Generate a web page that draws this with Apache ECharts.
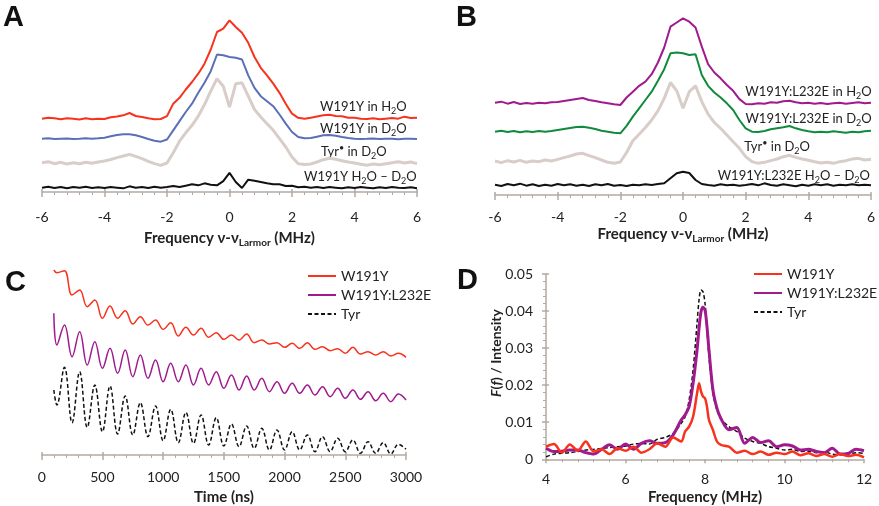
<!DOCTYPE html>
<html><head><meta charset="utf-8">
<script src="https://cdn.jsdelivr.net/npm/echarts@6/dist/echarts.min.js"></script>
<style>html,body{margin:0;padding:0;background:#fff}#c{width:879px;height:506px}</style>
</head><body><div id="c"></div>
<script>
// ---------- DATA ----------
const freqA = [-6,-5.8,-5.6,-5.4,-5.2,-5,-4.8,-4.6,-4.4,-4.2,-4,-3.8,-3.6,-3.4,-3.2,-3,-2.8,-2.6,-2.4,-2.2,-2,-1.8,-1.6,-1.4,-1.2,-1,-0.8,-0.6,-0.4,-0.2,0,0.2,0.4,0.6,0.8,1,1.2,1.4,1.6,1.8,2,2.2,2.4,2.6,2.8,3,3.2,3.4,3.6,3.8,4,4.2,4.4,4.6,4.8,5,5.2,5.4,5.6,5.8,6];
const redA = [44.0,44.6,44.2,43.6,44.3,44.0,43.5,44.2,43.6,44.0,43.8,44.8,45.3,46.0,47.4,45.6,45.0,44.2,43.6,43.8,45.5,53.0,56.5,61.5,66.0,71.0,77.0,85.5,96.0,98.0,103.0,99.0,95.5,89.5,81.0,74.5,70.0,65.0,59.5,53.0,47.0,44.5,44.0,44.5,45.3,46.0,46.4,45.6,45.4,44.6,44.5,44.0,43.8,44.2,43.6,44.0,44.4,44.0,45.2,44.4,44.6];
const blueA = [32.0,32.2,31.8,32.0,32.1,31.8,32.0,32.3,32.0,32.2,32.6,33.4,34.2,34.6,34.6,34.0,33.0,31.8,30.8,30.2,31.5,37.0,42.5,48.0,53.0,59.5,65.5,72.5,82.5,82.0,81.0,80.5,79.5,70.0,62.5,57.5,54.5,51.5,46.5,41.0,36.0,33.0,32.2,32.4,33.2,34.0,34.2,33.8,33.0,32.4,32.0,31.8,31.9,32.1,31.8,32.0,32.0,31.7,32.0,31.9,31.8];
const grayA = [17.5,18.2,17.0,17.8,16.8,17.6,17.0,17.8,17.2,18.0,18.6,19.5,20.6,21.6,22.6,21.4,20.0,18.4,17.0,16.0,17.4,23.5,30.5,35.5,40.0,45.5,52.5,60.5,68.0,63.5,51.0,65.0,65.5,57.5,49.5,45.0,41.0,37.0,32.0,27.0,21.0,17.0,16.5,16.8,18.0,19.4,20.2,19.6,18.8,18.0,17.4,16.6,16.0,16.8,16.4,17.0,17.6,18.2,17.4,18.0,17.0];
const blackA = [2.6,3.2,2.4,3.0,2.2,3.0,2.6,3.2,2.4,2.8,2.4,3.0,2.6,2.2,3.4,2.6,3.0,2.4,3.2,2.6,3.0,3.6,3.0,3.8,4.6,4.0,5.2,4.4,4.0,6.5,11.5,6.0,2.4,7.4,6.8,6.0,5.2,4.6,4.6,3.6,3.8,2.8,3.2,2.6,3.0,2.4,3.0,2.6,2.2,2.8,2.4,3.0,2.6,2.2,2.8,2.4,3.0,2.6,2.4,2.8,2.2];

const magB = [55.4,56.0,54.8,55.8,54.6,55.2,54.8,55.4,55.0,55.6,55.8,56.4,57.0,57.6,58.2,57.0,56.4,55.6,55.0,54.4,54.0,58.5,62.0,65.5,68.0,72.5,79.5,88.5,101.0,103.5,106.0,104.0,100.5,89.0,78.5,73.5,70.0,66.0,62.5,57.5,54.6,54.4,55.0,54.8,55.6,55.4,56.2,56.6,55.6,55.0,55.4,54.8,55.2,54.6,55.0,55.4,54.8,55.2,55.6,55.0,55.4];
const greenB = [38.0,38.6,37.8,38.4,37.6,38.2,37.8,38.4,38.0,38.4,39.0,39.6,40.2,40.8,41.0,40.4,39.6,38.6,38.0,37.4,37.0,41.5,47.0,52.0,57.0,62.0,68.5,75.5,85.0,85.5,85.0,84.0,84.5,72.0,65.5,61.5,58.5,55.0,51.0,45.0,40.0,38.0,37.8,38.4,39.4,40.0,40.6,41.4,40.0,39.0,38.2,37.6,38.0,37.6,38.2,37.8,37.4,38.0,37.6,38.2,38.6];
const grayB = [20.4,19.4,20.6,19.8,20.8,19.6,20.4,20.0,21.0,20.4,21.4,22.4,23.4,24.6,25.0,23.6,22.4,21.0,19.6,19.0,19.8,25.5,32.5,36.5,40.5,45.0,50.5,58.0,67.5,62.5,52.0,62.0,65.5,56.0,48.5,43.5,40.0,36.0,32.0,28.0,23.0,20.0,19.0,19.6,20.6,21.6,23.0,23.8,22.6,21.6,20.8,20.0,19.2,19.6,19.0,20.0,20.6,21.6,22.0,21.0,21.4];
const blackB = [6.2,5.4,6.6,5.8,6.8,5.6,6.4,5.4,6.2,5.6,6.6,5.8,6.4,5.6,6.2,5.4,6.4,5.8,6.6,5.6,6.0,5.4,6.2,5.8,6.4,6.0,6.6,7.0,10.0,13.0,14.0,13.2,9.0,6.6,6.0,5.6,6.4,5.8,6.2,5.6,6.0,6.6,5.8,7.0,6.0,5.6,6.4,5.8,5.2,6.2,5.6,6.4,5.8,6.4,5.6,6.2,5.8,6.4,5.8,6.2,5.8];

const labelsA = ['W191Y in H2O','W191Y in D2O','Tyr• in D2O','W191Y H2O – D2O'];
const labelsB = ['W191Y:L232E in H2O','W191Y:L232E in D2O','Tyr• in D2O','W191Y:L232E H2O – D2O'];

const timeC = [100,125,187.5,250,312.5,375,437.5,500,562.5,625,687.5,750,812.5,875,937.5,1000,1062.5,1125,1187.5,1250,1312.5,1375,1437.5,1500,1562.5,1625,1687.5,1750,1812.5,1875,1937.5,2000,2062.5,2125,2187.5,2250,2312.5,2375,2437.5,2500,2562.5,2625,2687.5,2750,2812.5,2875,2937.5,3000];
const redC = [111,109.4,110.6,96,99,89,93,82,89.4,82,86.6,78.6,83,78,81,75.4,79.4,71.4,76.6,72,76,70.6,73.4,69.4,72,69,72.6,67.4,69,66.6,67.4,64.6,67,64,67.4,63.4,65,62.6,63.8,61,64.6,60.6,62,60,62,59.4,61,58.6];
const magC = [85,66,78,59,74,54,68,52,64,49,63,47,60,46,57,44,55,44,54,42,52,42,50,40,48,39,47.4,39,46,38,44,37,43,37,42,36,41,35,40,34,39,33.4,38,32.6,37,32,36.6,33];
const tyrC = [39,30,52.6,19.4,50,16.6,42,14,41.4,12.6,35.4,12,31.4,11,29.4,8.6,27.4,7.4,25.6,7,24,6,22.4,5.4,18.6,5,17.4,4,16,3,15,3,14,3,12,2,11,2,10,2,9,1,8,1,7.4,0.6,6.4,3.4];

const freqD = [4,4.2,4.4,4.6,4.8,5,5.2,5.4,5.6,5.8,6,6.2,6.4,6.6,6.8,7,7.2,7.4,7.5,7.6,7.7,7.8,7.85,7.9,7.95,8,8.05,8.1,8.2,8.3,8.4,8.6,8.8,9,9.2,9.4,9.6,9.8,10,10.2,10.4,10.6,10.8,11,11.2,11.4,11.6,11.8,12];
const redD = [0.0034,0.0041,0.0018,0.0040,0.0023,0.0048,0.0021,0.0027,0.0014,0.0030,0.0023,0.0034,0.0018,0.0027,0.0043,0.0034,0.0059,0.0048,0.0075,0.0088,0.0115,0.0178,0.0205,0.0183,0.0169,0.0165,0.0142,0.0106,0.0079,0.0048,0.0039,0.0034,0.0018,0.0023,0.0014,0.0021,0.0012,0.0018,0.0014,0.0021,0.0011,0.0016,0.0009,0.0014,0.0007,0.0014,0.0009,0.0012,0.0005];
const magD = [0.0030,0.0021,0.0022,0.0025,0.0025,0.0018,0.0014,0.0027,0.0039,0.0027,0.0041,0.0027,0.0043,0.0050,0.0043,0.0045,0.0066,0.0106,0.0120,0.0142,0.0205,0.0295,0.0353,0.0398,0.0410,0.0403,0.0358,0.0295,0.0187,0.0138,0.0110,0.0080,0.0086,0.0043,0.0059,0.0045,0.0050,0.0034,0.0039,0.0036,0.0025,0.0027,0.0021,0.0018,0.0030,0.0014,0.0016,0.0027,0.0023];
const tyrD = [0.0007,0.0014,0.0016,0.0018,0.0021,0.0025,0.0027,0.0029,0.0032,0.0034,0.0036,0.0041,0.0043,0.0041,0.0054,0.0059,0.0070,0.0097,0.0115,0.0160,0.0241,0.0367,0.0430,0.0457,0.0452,0.0421,0.0349,0.0277,0.0178,0.0133,0.0110,0.0088,0.0075,0.0057,0.0048,0.0043,0.0034,0.0030,0.0025,0.0027,0.0021,0.0022,0.0018,0.0020,0.0014,0.0012,0.0014,0.0018,0.0016];
const legendNames = ['W191Y','W191Y:L232E','Tyr'];

// ---------- STYLE ----------
const FONT = 'Lato, "Open Sans", sans-serif';
const TXT = '#222';
const AX = '#b3a9a2';
const RED = '#f7321d', BLUE = '#5a6fb6', GRAY = '#d8cdc8', BLK = '#111', MAG = '#a01a8e', GRN = '#108a3c';

const pairs = (xs, ys) => xs.map((x, i) => [x, ys[i]]);
function toRich(s) { return '{n|' + s.replace(/2O/g, '}{s|2}{n|O').replace(/•/g, '}{u|•}{n|') + '}'; }
const richLbl = {
  n: { fontSize: 13, fontFamily: FONT, fill: TXT, lineHeight: 17 },
  s: { fontSize: 9, fontFamily: FONT, fill: TXT, lineHeight: 9, verticalAlign: 'bottom' },
  u: { fontSize: 9, fontFamily: FONT, fill: TXT, lineHeight: 9, verticalAlign: 'top' }
};
const nameRich = {
  b: { fontSize: 15, fontWeight: 'bold', color: TXT, fontFamily: FONT, lineHeight: 20 },
  s: { fontSize: 10, fontWeight: 'bold', color: TXT, fontFamily: FONT, lineHeight: 11, verticalAlign: 'bottom' }
};
const yTitleRich = {
  b: { fontSize: 14, fontWeight: 'bold', fill: TXT, fontFamily: FONT, lineHeight: 18 },
  i: { fontSize: 14, fontWeight: 'bold', fontStyle: 'italic', fill: TXT, fontFamily: FONT, lineHeight: 18 }
};

function mainX(grid, min, max, interval, margin, name, nameGap) {
  return {
    type: 'value', gridIndex: grid, min, max, interval, position: 'bottom',
    axisLine: { onZero: false, lineStyle: { color: AX, width: 1.5 } },
    axisTick: { length: 5, lineStyle: { color: AX, width: 1.5 } },
    minorTick: { show: true, splitNumber: 5, length: 3, lineStyle: { color: AX, width: 1 } },
    splitLine: { show: false }, minorSplitLine: { show: false },
    axisLabel: { margin, fontSize: 14, color: TXT, fontFamily: FONT, formatter: v => String(v) },
    name, nameLocation: 'middle', nameGap,
    nameTextStyle: { rich: nameRich }
  };
}
function crossX(grid, min, max, interval, h) {
  return {
    type: 'value', gridIndex: grid, min, max, interval, position: 'top', offset: -h,
    axisLine: { show: false }, axisTick: { length: 3, lineStyle: { color: AX, width: 1.5 } },
    axisLabel: { show: false }, splitLine: { show: false }
  };
}
function hiddenY(grid, max) { return { type: 'value', gridIndex: grid, min: 0, max, show: false, splitLine: { show: false } }; }
function line(name, xi, yi, data, color, width, extra) {
  return Object.assign({ name, type: 'line', xAxisIndex: xi, yAxisIndex: yi, data, symbol: 'none', smooth: false,
    lineStyle: { color, width }, itemStyle: { color }, silent: true }, extra || {});
}
function legendAt(left, top, prefix) {
  return { orient: 'vertical', left, top, padding: 0, itemWidth: 28, itemHeight: 14, itemGap: 5, selectedMode: false,
    itemStyle: { opacity: 0 },
    data: legendNames.map(n => prefix + n), formatter: n => n.slice(2),
    textStyle: { fontSize: 14, color: TXT, fontFamily: FONT, lineHeight: 14 } };
}

const option = {
  animation: false,
  backgroundColor: '#fff',
  grid: [
    { left: 42, top: 0, width: 375, height: 192, outerBoundsMode: 'none' },
    { left: 495, top: 0, width: 376, height: 195, outerBoundsMode: 'none' },
    { left: 41.7, top: 250, width: 364.3, height: 205, outerBoundsMode: 'none' },
    { left: 546, top: 274, width: 318, height: 185.3, outerBoundsMode: 'none' }
  ],
  xAxis: [
    mainX(0, -6, 6, 2, 18, '{b|Frequency ν-ν}{s|Larmor}{b| (MHz)}', 36),
    mainX(1, -6, 6, 2, 15, '{b|Frequency ν-ν}{s|Larmor}{b| (MHz)}', 29),
    mainX(2, 0, 3000, 500, 15, '{b|Time (ns)}', 32),
    Object.assign(mainX(3, 4, 12, 2, 13, '{b|Frequency (MHz)}', 28), { axisTick: { length: 4, lineStyle: { color: AX, width: 1.5 } } }),
    crossX(0, -6, 6, 2, 192),
    crossX(1, -6, 6, 2, 195),
    crossX(2, 0, 3000, 500, 205)
  ],
  yAxis: [
    hiddenY(0, 115.2),
    hiddenY(1, 117),
    hiddenY(2, 123),
    {
      type: 'value', gridIndex: 3, min: 0, max: 0.05, interval: 0.01,
      axisLine: { show: true, lineStyle: { color: AX, width: 1.5 } },
      axisTick: { show: true, length: 4, lineStyle: { color: AX, width: 1.5 } },
      minorTick: { show: true, splitNumber: 5, length: 3, lineStyle: { color: AX, width: 1 } },
      splitLine: { show: false }, minorSplitLine: { show: false },
      axisLabel: { margin: 13, fontSize: 14, color: TXT, fontFamily: FONT, formatter: v => v === 0 ? '0' : v.toFixed(2) }
    },
    {
      type: 'value', gridIndex: 3, min: 0, max: 0.05, interval: 0.01, position: 'right', offset: -318,
      axisLine: { show: false }, axisTick: { show: true, length: 3, lineStyle: { color: AX, width: 1.5 } },
      axisLabel: { show: false }, splitLine: { show: false }
    }
  ],
  legend: [ legendAt(307, 269, 'c:'), legendAt(753, 267, 'd:') ],
  graphic: [
    ...['A', 'B', 'C', 'D'].map((t, i) => ({
      type: 'text', x: [3, 456, 5, 457][i], y: [18, 18, 283, 281][i],
      style: { text: t, font: 'bold 29px "Liberation Sans", Arial, sans-serif', fill: '#111', verticalAlign: 'middle', textVerticalAlign: 'middle' }
    })),
    ...labelsA.map((t, i) => ({
      type: 'text', x: [406.7, 406.7, 386.7, 416.7][i], y: [106.7, 129.3, 151.7, 176.7][i],
      style: { text: toRich(t), rich: richLbl, fill: TXT, font: '13px Lato', align: 'right', verticalAlign: 'middle', textAlign: 'right', textVerticalAlign: 'middle' }
    })),
    ...labelsB.map((t, i) => ({
      type: 'text', x: [871.7, 871.7, 810, 870][i], y: [91.7, 119.3, 147.3, 176][i],
      style: { text: toRich(t), rich: richLbl, fill: TXT, font: '13px Lato', align: 'right', verticalAlign: 'middle', textAlign: 'right', textVerticalAlign: 'middle' }
    })),
    { type: 'text', x: 496, y: 353, rotation: Math.PI / 2,
      style: { text: '{i|F}{b|(}{i|f}{b|) / Intensity}', rich: yTitleRich, fill: TXT, font: 'bold 14px Lato',
        align: 'center', verticalAlign: 'middle', textAlign: 'center', textVerticalAlign: 'middle' } }
  ],
  series: [
    line('Tyr A', 0, 0, pairs(freqA, grayA), GRAY, 3),
    line('diff A', 0, 0, pairs(freqA, blackA), BLK, 2),
    line('W191Y D2O', 0, 0, pairs(freqA, blueA), BLUE, 2),
    line('W191Y H2O', 0, 0, pairs(freqA, redA), RED, 2),
    line('Tyr B', 1, 1, pairs(freqA, grayB), GRAY, 3),
    line('diff B', 1, 1, pairs(freqA, blackB), BLK, 2),
    line('L232E D2O', 1, 1, pairs(freqA, greenB), GRN, 2),
    line('L232E H2O', 1, 1, pairs(freqA, magB), MAG, 2),
    line('c:W191Y', 2, 2, pairs(timeC, redC), RED, 1.5, { smooth: 0.4 }),
    line('c:W191Y:L232E', 2, 2, pairs(timeC, magC), MAG, 1.5, { smooth: 0.4 }),
    line('c:Tyr', 2, 2, pairs(timeC, tyrC), BLK, 1.5, { smooth: 0.4, lineStyle: { color: BLK, width: 1.5, type: [4, 2.5] } }),
    line('d:Tyr', 3, 3, pairs(freqD, tyrD), BLK, 1.5, { smooth: 0.3, lineStyle: { color: BLK, width: 1.5, type: [4, 2.5] } }),
    line('d:W191Y:L232E', 3, 3, pairs(freqD, magD), MAG, 3, { smooth: 0.3 }),
    line('d:W191Y', 3, 3, pairs(freqD, redD), RED, 2.5, { smooth: 0.3 })
  ]
};
const chart = echarts.init(document.getElementById('c'), null, { renderer: 'canvas' });
chart.setOption(option);
</script>
</body></html>
